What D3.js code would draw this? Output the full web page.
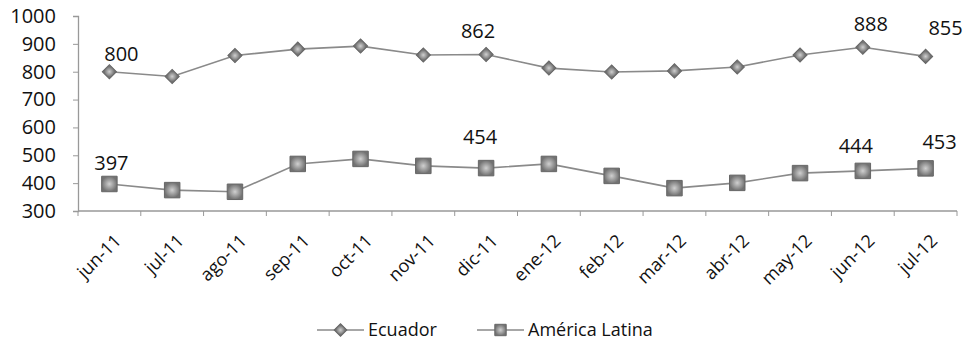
<!DOCTYPE html>
<html><head><meta charset="utf-8">
<script src="https://cdn.jsdelivr.net/npm/d3@7"></script>
<style>body{margin:0;background:#fff}svg{display:block}text{font-family:"Open Sans",sans-serif;fill:#111}</style>
</head><body><svg id="c" width="967" height="343"></svg>
<script>
const categories = ["jun-11","jul-11","ago-11","sep-11","oct-11","nov-11","dic-11","ene-12","feb-12","mar-12","abr-12","may-12","jun-12","jul-12"];
const ecuador = [800,783,858,881,892,860,862,813,799,803,817,860,888,855];
const latina  = [397,375,369,469,487,462,454,469,426,382,401,436,444,453];
const yTicks = [300,400,500,600,700,800,900,1000];
const ecuadorLabels = [{i:0,dx:12,dy:-11},{i:6,dx:-8,dy:-16},{i:12,dx:8,dy:-16},{i:13,dx:20,dy:-21}];
const latinaLabels  = [{i:0,dx:2,dy:-14},{i:6,dx:-6,dy:-24},{i:12,dx:-7,dy:-18},{i:13,dx:14,dy:-19}];

const svg = d3.select("#c");
const x = d3.scaleBand().domain(categories).range([78,957]);
const y = d3.scaleLinear().domain([300,1000]).range([211,16]);
const cx = d => x(d) + x.bandwidth()/2;

const defs = svg.append("defs");
const g1 = defs.append("radialGradient").attr("id","mk");
g1.append("stop").attr("offset","0%").attr("stop-color","#d0d0d0");
g1.append("stop").attr("offset","100%").attr("stop-color","#727272");

// Y axis
const ya = svg.append("g").attr("transform","translate(78,0)")
  .call(d3.axisLeft(y).tickValues(yTicks).tickFormat(d3.format("d")).tickSize(5).tickPadding(17));
ya.select(".domain").attr("stroke","#999").attr("stroke-width",1.3);
ya.selectAll(".tick line").attr("stroke","#999");
ya.selectAll("text").style("font-size","20px").attr("fill","#111");

// X axis
const xa = svg.append("g").attr("transform","translate(0,211)");
xa.append("line").attr("x1",78).attr("x2",957).attr("stroke","#999").attr("stroke-width",1.3);
xa.selectAll("line.t").data(categories.concat(["end"])).join("line").attr("class","t")
  .attr("x1",(d,i)=>78+i*x.step()).attr("x2",(d,i)=>78+i*x.step())
  .attr("y1",0).attr("y2",5).attr("stroke","#999");
xa.selectAll("text").data(categories).join("text")
  .attr("transform",d=>`translate(${cx(d)+4},${22}) rotate(-45)`)
  .attr("text-anchor","end").attr("dy","0.7em")
  .style("font-size","18px").text(d=>d);

const line = d3.line().x((d,i)=>cx(categories[i])).y(d=>y(d));
function series(vals, shape, size, rot){
  svg.append("path").datum(vals).attr("d",line).attr("fill","none")
    .attr("stroke","#8a8a8a").attr("stroke-width",1.6);
  svg.append("g").selectAll("path").data(vals).join("path")
    .attr("transform",(d,i)=>`translate(${cx(categories[i])},${y(d)}) rotate(${rot})`)
    .attr("d",d3.symbol().type(shape).size(size))
    .attr("fill","url(#mk)").attr("stroke","#666").attr("stroke-width",1);
}
series(ecuador, d3.symbolSquare, 100, 45);
series(latina, d3.symbolSquare, 240, 0);

function labels(vals, list){
  svg.append("g").selectAll("text").data(list).join("text")
    .attr("x",d=>cx(categories[d.i])+d.dx).attr("y",d=>y(vals[d.i])+d.dy)
    .attr("text-anchor","middle").style("font-size","20px").text(d=>vals[d.i]);
}
labels(ecuador, ecuadorLabels);
labels(latina, latinaLabels);

// legend
const leg = svg.append("g");
const items = [{name:"Ecuador", shape:d3.symbolSquare, size:80, rot:45, x:317},{name:"América Latina", shape:d3.symbolSquare, size:130, rot:0, x:477}];
items.forEach(it=>{
  leg.append("line").attr("x1",it.x).attr("x2",it.x+47).attr("y1",330).attr("y2",330).attr("stroke","#8a8a8a").attr("stroke-width",1.6);
  leg.append("path").attr("transform",`translate(${it.x+23.5},330) rotate(${it.rot})`).attr("d",d3.symbol().type(it.shape).size(it.size))
    .attr("fill","url(#mk)").attr("stroke","#666");
  leg.append("text").attr("x",it.x+51).attr("y",330).attr("dy","0.35em").style("font-size","18px").text(it.name);
});
</script></body></html>
